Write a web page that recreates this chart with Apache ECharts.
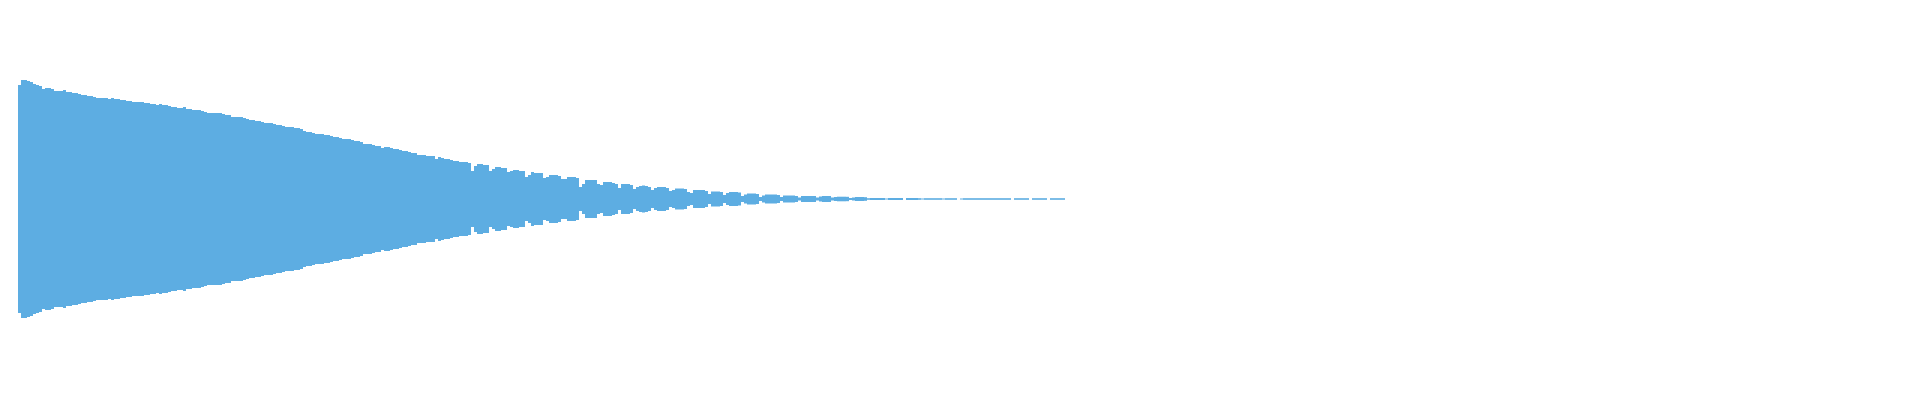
<!DOCTYPE html>
<html>
<head>
<meta charset="utf-8">
<style>
  html, body { margin: 0; padding: 0; background: #ffffff; }
  #chart { width: 1920px; height: 400px; }
</style>
<script src="https://cdn.jsdelivr.net/npm/echarts@6/dist/echarts.min.js"></script>
</head>
<body>
<div id="chart"></div>
<script>
// Number of frame slots on the time axis (the waveform only fills the first part)
const frameCount = 628;

// Peak amplitude per frame (upper envelope)
const peakPositive = [
  114,119,119,118,117,115,114,113,110,111,
  111,110,108,108,108,109,107,107,106,106,
  105,104,104,103,103,102,101,101,101,101,
  100,101,100,100,99,99,98,98,97,97,
  97,97,96,96,95,95,94,95,94,94,
  93,92,92,91,91,92,90,90,89,89,
  89,88,87,86,86,86,86,86,85,84,
  84,82,82,82,82,81,80,79,79,78,
  78,77,76,76,76,75,74,74,73,72,
  72,72,71,71,70,68,67,67,66,65,
  65,65,64,64,63,62,62,61,60,60,
  60,59,58,58,57,55,55,55,54,53,
  53,51,52,52,51,50,50,49,48,48,
  47,46,46,44,44,44,43,43,43,40,
  42,41,40,40,39,38,38,37,37,37,
  36,28,33,35,35,34,34,28,30,32,
  32,31,31,27,28,29,29,28,28,22,
  24,27,26,26,26,21,22,24,24,24,
  23,20,20,22,22,22,21,12,15,19,
  19,19,19,15,14,17,17,17,16,15,
  11,15,15,15,14,10,12,13,13.5,13,
  12,9,11,12,12,12,11,8,9,10.5,
  10.5,10.5,10,7,6,9,9,9,9,8,
  5,7.5,7.5,7.5,7,4,6,7,7,7,
  6.5,3,4.5,5.5,5.5,5.5,5,2,3.5,4.5,
  4.5,4.5,4.5,4,2,3.5,3.5,3.5,3.5,3,
  1.5,3,3,3,3,3,1.5,2.5,3,3,
  3,1.5,2,2.3,2.3,2.3,2.2,1,1.5,2,
  2,2,1.8,0.8,1,1,1,1,1,0.5,
  1,1,1,1,1,0,1,1,1,1,
  0.8,0.5,0.8,0.8,0.8,0.8,0.8,0.8,0.5,0.8,
  0.8,0.8,0.8,0,0.5,0.8,0.8,0.8,0.8,0.8,
  0.8,0.8,0.8,0.8,0.8,0.8,0.8,0.8,0.8,0.8,
  0.8,0,0.8,0.8,0.8,0.8,0.8,0,0.8,0.8,
  0.8,0.8,0.8,0,0.8,0.8,0.8,0.8,0.8
];

// Lower envelope: the waveform is symmetric around zero
const peakNegative = peakPositive.map(v => -v);

const frames = Array.from({ length: frameCount }, (_, i) => i);

const waveColor = '#5dade2';

const chart = echarts.init(document.getElementById('chart'), null, { renderer: 'canvas' });
chart.setOption({
  backgroundColor: '#ffffff',
  animation: false,
  grid: { left: 18, right: 18, top: 0, bottom: 0, containLabel: false },
  xAxis: {
    type: 'category',
    data: frames,
    show: false,
    boundaryGap: true
  },
  yAxis: {
    type: 'value',
    min: -201,
    max: 199,
    show: false
  },
  series: [
    {
      type: 'bar',
      data: peakPositive,
      barWidth: '100%',
      barGap: '-100%',
      barCategoryGap: '0%',
      itemStyle: { color: waveColor },
      emphasis: { disabled: true },
      silent: true
    },
    {
      type: 'bar',
      data: peakNegative,
      barWidth: '100%',
      barGap: '-100%',
      barCategoryGap: '0%',
      itemStyle: { color: waveColor },
      emphasis: { disabled: true },
      silent: true
    }
  ]
});
</script>
</body>
</html>
